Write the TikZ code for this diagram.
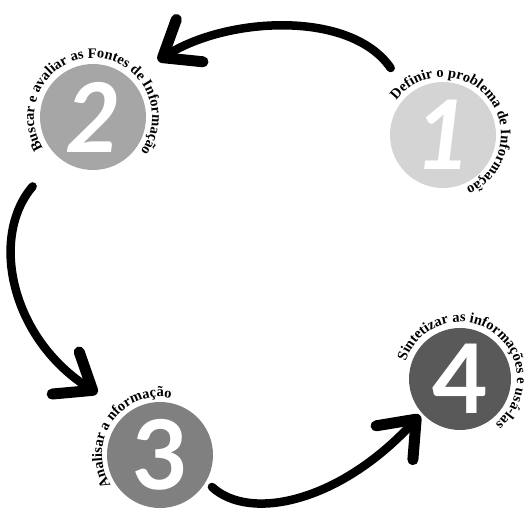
\documentclass[tikz,border=0pt]{standalone}
\usepackage{fontspec}
\setmainfont{Liberation Serif}
\newfontfamily\digitfont{Lato}
\usetikzlibrary{arrows.meta,calc,decorations.text}
\newcommand\ringfont{\bfseries\fontsize{14.5}{16}\selectfont}
\tikzset{
    disc/.style={circle, minimum size=106pt, inner sep=0pt,
                 text=white, font=\digitfont\bfseries\fontsize{96}{96}\selectfont},
    flow/.style={line width=8.5pt, line cap=round,
                 -{Straight Barb[length=32pt, width=50pt, line width=11pt, round]}},
    ring/.style={decorate, decoration={text along path, text align=center,
                 text={|\ringfont|#1}}},
}

\begin{document}
\begin{tikzpicture}[x=1pt, y=1pt]
    \useasboundingbox (0,0) rectangle (525,507);

    % the four steps
    \node[disc, fill={rgb,255:red,212;green,212;blue,212}] (c1) at (443,372) {\itshape 1};
    \node[disc, fill={rgb,255:red,166;green,166;blue,166}] (c2) at (93,390) {\itshape 2};
    \node[disc, fill={rgb,255:red,128;green,128;blue,128}] (c3) at (160,52) {3};
    \node[disc, fill={rgb,255:red,89;green,89;blue,89}, minimum size=102pt] (c4) at (460,128) {4};

    % curved labels
    \path[ring={Definir o problema de Informação}]
        (c1) ++(208.5:58) arc[start angle=208.5, end angle=-131.5, radius=58];
    \path[ring={Buscar e avaliar as Fontes de Informação}]
        (c2) ++(258:59) arc[start angle=258, end angle=-82, radius=59];
    \path[ring={Analisar a nformação}]
        (c3) ++(315.5:58) arc[start angle=315.5, end angle=-24.5, radius=58];
    \path[ring={Sintetizar as informações e usá-las}]
        (c4) ++(225:57) arc[start angle=225, end angle=-115, radius=57];

    % arrows between the steps
    \coordinate (a1) at ($(c1)+(128:85)$);
    \coordinate (b1) at ($(c2)+(41:86)$);
    \coordinate (a2) at ($(c2)+(229:92)$);
    \coordinate (b2) at ($(c3)+(135.5:88)$);
    \coordinate (a3) at ($(c3)+(-31.6:61)$);
    \coordinate (b3) at ($(c4)+(222:54)$);
    \draw[flow] (a1) .. controls +(-40,58) and +(70,44) .. (b1);
    \draw[flow] (a2) .. controls +(-43,-50) and +(-87,56) .. (b2);
    \draw[flow] (a3) .. controls +(38,-35) and +(-80,-87) .. (b3);

\end{tikzpicture}
\end{document}
